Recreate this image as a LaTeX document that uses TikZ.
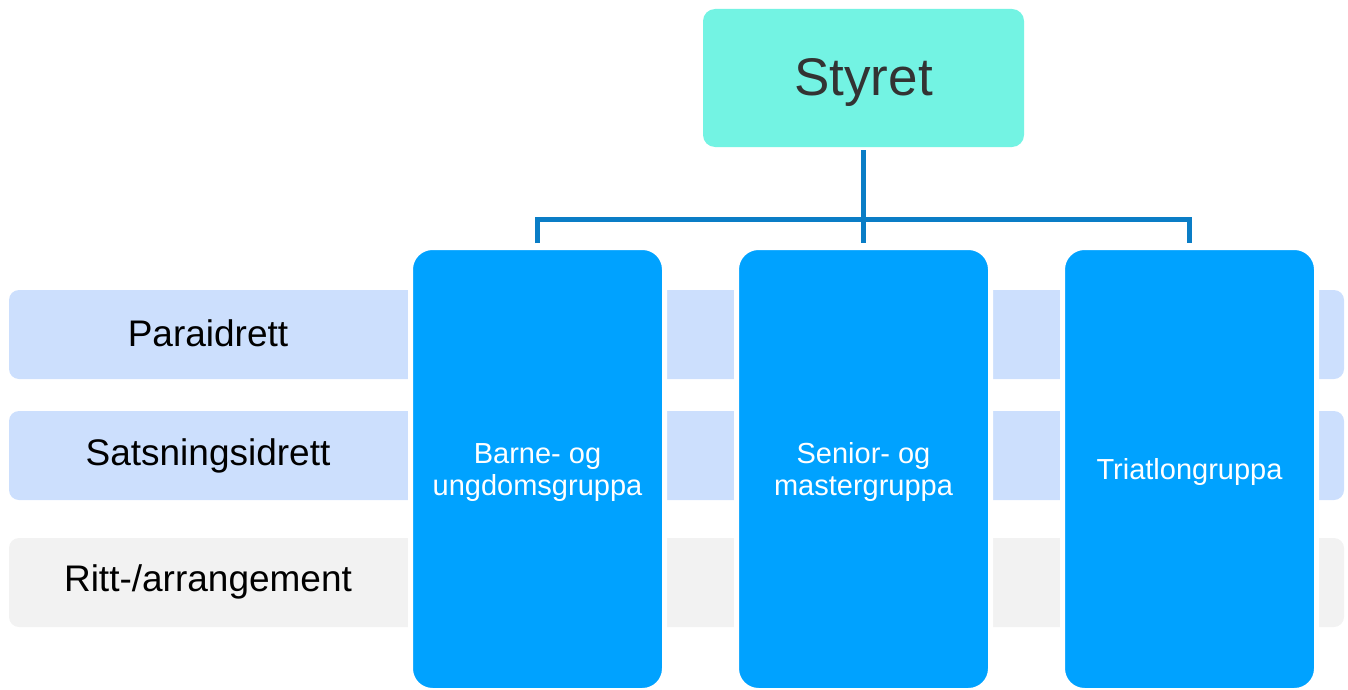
\documentclass[tikz,border=0pt]{standalone}
\usepackage{fontspec}
\setmainfont{Liberation Sans}
\definecolor{stycol}{HTML}{73F3E3}
\definecolor{colcol}{HTML}{00A2FF}
\definecolor{bandblue}{HTML}{CCDFFD}
\definecolor{bandgray}{HTML}{F2F2F2}
\definecolor{conncol}{HTML}{0A7DC6}
\definecolor{stytext}{HTML}{333333}
\newcommand{\coltxt}[1]{\raisebox{-4pt}[\height][\depth]{\setlength{\tabcolsep}{0pt}\begin{tabular}{c}#1\end{tabular}}}
\begin{document}
\begin{tikzpicture}[x=1pt,y=-1pt,
  band/.style={rounded corners=10pt,minimum width=1335pt,minimum height=89pt,inner sep=0pt,draw=none},
  bandlabel/.style={font=\fontsize{37}{44}\selectfont,text=black,inner sep=0pt},
  column/.style={fill=colcol,draw=white,line width=5pt,outer sep=0pt,rounded corners=22pt,minimum width=254pt,minimum height=443pt,inner sep=0pt,align=center,text=white,font=\fontsize{29}{32}\selectfont},
  boss/.style={fill=stycol,rounded corners=12pt,minimum width=321pt,minimum height=138pt,inner sep=0pt,outer sep=0pt,text=stytext,font=\fontsize{53}{60}\selectfont},
  conn/.style={draw=conncol,line width=5pt}]
\useasboundingbox (0,0) rectangle (1348,690);
\node[band,fill=bandblue] (b1) at (676.5,334.5) {};
\node[band,fill=bandblue] (b2) at (676.5,455.5) {};
\node[band,fill=bandgray] (b3) at (676.5,582.5) {};
\node[bandlabel] (l1) at (208,333.5) {Paraidrett};
\node[bandlabel] (l2) at (208,455.5) {Satsningsidrett};
\node[bandlabel] (l3) at (208,581.5) {Ritt-/arrangement};
\node[column] (c1) at (537.5,469) {\coltxt{Barne- og\\ungdomsgruppa}};
\node[column] (c2) at (863.5,469) {\coltxt{Senior- og\\mastergruppa}};
\node[column] (c3) at (1189.5,469) {\coltxt{Triatlongruppa}};
\node[boss] (sty) at (863.5,78) {\raisebox{-4pt}[\height][\depth]{Styret}};
\draw[conn] ([yshift=-3pt]sty.south) -- ([yshift=4.5pt]c2.north);
\draw[conn] ([yshift=4.5pt]c1.north) -- ++(0,-24) -| ([yshift=4.5pt]c3.north);
\end{tikzpicture}
\end{document}
